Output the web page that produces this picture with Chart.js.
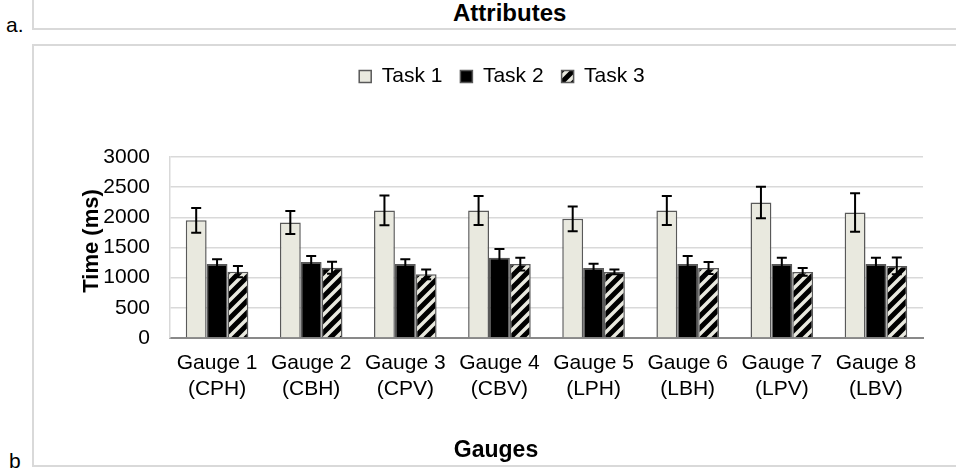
<!DOCTYPE html>
<html>
<head>
<meta charset="utf-8">
<title>Gauges</title>
<script src="https://cdn.jsdelivr.net/npm/chart.js@4.4.1/dist/chart.umd.min.js"></script>
<style>
  body { margin: 0; background: #fff; font-family: "Liberation Sans", Arial, sans-serif; color: #000; }
  #page { position: relative; width: 956px; height: 468px; overflow: hidden; }
  .frame { position: absolute; box-sizing: border-box; border: 2px solid #d9d9d9; }
  #frameA { left: 32px; top: -10px; width: 940px; height: 40px; border-top: none; border-right: none; }
  #frameB { left: 32px; top: 44px; width: 940px; height: 423px; border-right: none; }
  .tag { position: absolute; font-size: 21px; line-height: 21px; }
  #heading { position: absolute; left: 453px; top: 1px; font-size: 24px; line-height: 24px; font-weight: bold; }
  #chartBox { position: absolute; left: 34px; top: 46px; width: 922px; height: 419px; }
</style>
</head>
<body>
<div id="page">
  <div class="frame" id="frameA"></div>
  <div class="frame" id="frameB"></div>
  <div class="tag" style="left:6px; top:14px;">a.</div>
  <div class="tag" style="left:9px; top:450px;">b</div>
  <div id="heading">Attributes</div>
  <div id="chartBox"><canvas id="chart"></canvas></div>
</div>
<script>
const gauges = ['Gauge 1', 'Gauge 2', 'Gauge 3', 'Gauge 4', 'Gauge 5', 'Gauge 6', 'Gauge 7', 'Gauge 8'];
const codes = ['(CPH)', '(CBH)', '(CPV)', '(CBV)', '(LPH)', '(LBH)', '(LPV)', '(LBV)'];

const task1 = [1950, 1915, 2115, 2115, 1975, 2115, 2245, 2080];
const task1Err = [205, 190, 245, 240, 205, 240, 260, 320];
const task2 = [1225, 1260, 1225, 1330, 1160, 1225, 1225, 1225];
const task2Err = [80, 100, 80, 145, 70, 135, 105, 105];
const task3 = [1100, 1165, 1055, 1225, 1095, 1160, 1095, 1195];
const task3Err = [95, 100, 80, 105, 40, 100, 65, 140];

const yTicks = [0, 500, 1000, 1500, 2000, 2500, 3000];

const FONT = '"Liberation Sans", Arial, sans-serif';
const BEIGE = '#e9e9df';
const EDGE = '#595959';

Chart.defaults.font.family = FONT;
Chart.defaults.color = '#000';

const canvas = document.getElementById('chart');

// diagonal black hatching for Task 3
function hatch() {
  const s = 12;
  const c = document.createElement('canvas');
  c.width = s;
  c.height = s;
  const g = c.getContext('2d');
  g.fillStyle = BEIGE;
  g.fillRect(0, 0, s, s);
  g.strokeStyle = '#000';
  g.lineWidth = 5;
  g.beginPath();
  g.moveTo(-s / 2, s / 2); g.lineTo(s / 2, -s / 2);
  g.moveTo(0, s); g.lineTo(s, 0);
  g.moveTo(s / 2, s * 1.5); g.lineTo(s * 1.5, s / 2);
  g.stroke();
  return canvas.getContext('2d').createPattern(c, 'repeat');
}

// +/- error bars over each bar
const errorBars = {
  id: 'errorBars',
  afterDatasetsDraw(chart) {
    const { ctx } = chart;
    const y = chart.scales.y;
    ctx.save();
    ctx.strokeStyle = '#000';
    ctx.lineWidth = 2;
    chart.data.datasets.forEach((ds, i) => {
      chart.getDatasetMeta(i).data.forEach((bar, j) => {
        const top = y.getPixelForValue(ds.data[j] + ds.errors[j]);
        const bottom = y.getPixelForValue(ds.data[j] - ds.errors[j]);
        ctx.beginPath();
        ctx.moveTo(bar.x, top); ctx.lineTo(bar.x, bottom);
        ctx.moveTo(bar.x - 5, top); ctx.lineTo(bar.x + 5, top);
        ctx.moveTo(bar.x - 5, bottom); ctx.lineTo(bar.x + 5, bottom);
        ctx.stroke();
      });
    });
    ctx.restore();
  }
};

// axis titles, centred on the chart box rather than the plot
const axisTitles = {
  id: 'axisTitles',
  afterDraw(chart) {
    const { ctx } = chart;
    ctx.save();
    ctx.fillStyle = '#000';
    ctx.font = 'bold 23px ' + FONT;
    ctx.textAlign = 'center';
    ctx.textBaseline = 'alphabetic';
    ctx.fillText('Gauges', 462, 411);
    ctx.font = 'bold 22px ' + FONT;
    ctx.translate(58, 195);
    ctx.rotate(-Math.PI / 2);
    ctx.textBaseline = 'middle';
    ctx.fillText('Time (ms)', 0, 0);
    ctx.restore();
  }
};

new Chart(canvas, {
  type: 'bar',
  data: {
    labels: gauges.map((g, i) => [g, codes[i]]),
    datasets: [
      { label: 'Task 1', data: task1, errors: task1Err, backgroundColor: BEIGE },
      { label: 'Task 2', data: task2, errors: task2Err, backgroundColor: '#000' },
      { label: 'Task 3', data: task3, errors: task3Err, backgroundColor: hatch() }
    ]
  },
  options: {
    responsive: true,
    maintainAspectRatio: false,
    animation: false,
    layout: { padding: { top: 2, right: 33, bottom: 0, left: 47 } },
    datasets: {
      bar: {
        borderColor: EDGE,
        borderWidth: 1.5,
        categoryPercentage: 0.665,
        barPercentage: 1
      }
    },
    plugins: {
      legend: {
        position: 'top',
        labels: {
          font: { size: 21 },
          boxWidth: 12,
          boxHeight: 12,
          padding: 18
        }
      },
      // empty title, used as the gap between legend and plot
      title: {
        display: true,
        text: '',
        weight: 500,
        font: { size: 10, lineHeight: 1 },
        padding: { top: 0, bottom: 50 }
      },
      tooltip: { enabled: false }
    },
    scales: {
      x: {
        grid: { display: false, drawTicks: false },
        border: { color: '#898989', width: 2 },
        ticks: { font: { size: 21 }, padding: 13, maxRotation: 0, autoSkip: false },
        afterFit(scale) { scale.height = 127; }
      },
      y: {
        min: 0,
        max: 3000,
        afterBuildTicks(scale) { scale.ticks = yTicks.map(v => ({ value: v })); },
        grid: { color: '#d9d9d9', lineWidth: 1.5, drawTicks: false },
        border: { color: '#d9d9d9', width: 1.5 },
        ticks: { font: { size: 21 }, padding: 20, callback: v => String(v) },
        afterFit(scale) { scale.width = 89; }
      }
    }
  },
  plugins: [errorBars, axisTitles]
});
</script>
</body>
</html>
